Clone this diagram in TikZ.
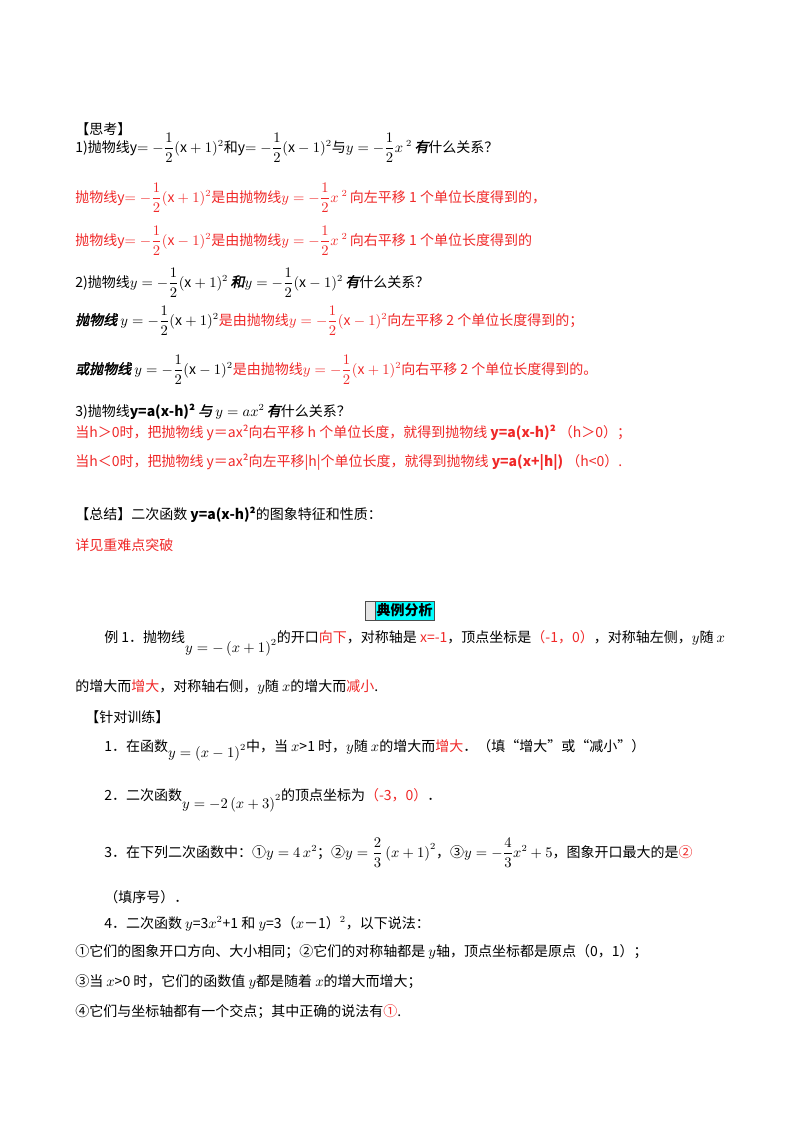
\documentclass[tikz,border=0pt]{standalone}
\usepackage{amsmath}
\usepackage{fontspec}
\setmainfont{Noto Sans CJK SC}
\newfontfamily\cjkbi[FakeSlant=0.2,FakeBold=2]{Noto Sans CJK SC}
\definecolor{myred}{RGB}{240,40,40}
\definecolor{mycyan}{RGB}{0,255,255}
\newcommand\rd[1]{\textcolor{myred}{#1}}
\newcommand\hf{\dfrac{1}{2}}
\begin{document}
\begin{tikzpicture}[x=0.75pt,y=-0.75pt,
  tl/.style={anchor=base west,inner sep=0pt,font=\fontsize{10.5}{12}\selectfont}]
\useasboundingbox (0,0) rectangle (800,1132);
\fill[white] (0,0) rectangle (800,1132);
\node[tl] (t0) at (75,134) {【思考】};
\node[tl] (t1) at (75,152) {1)抛物线y$=-\hf(\mathrm{x}+1)^2$和y$=-\hf(\mathrm{x}-1)^2$与$y=-\hf x^{\;2}$\,{\cjkbi 有}什么关系？};
\node[tl,text=myred] (t2) at (75,202) {抛物线y$=-\hf(\mathrm{x}+1)^2$是由抛物线$y=-\hf x^{\;2}$\,向左平移 1 个单位长度得到的，};
\node[tl,text=myred] (t3) at (75,245) {抛物线y$=-\hf(\mathrm{x}-1)^2$是由抛物线$y=-\hf x^{\;2}$\,向右平移 1 个单位长度得到的};
\node[tl] (t4) at (75,287) {2)抛物线$y=-\hf(\mathrm{x}+1)^2$\,{\cjkbi 和}$y=-\hf(\mathrm{x}-1)^2$\,{\cjkbi 有}什么关系？};
\node[tl] (t5) at (75,325) {{\cjkbi 抛物线} $y=-\hf(\mathrm{x}+1)^2$\rd{是由抛物线$y=-\hf(\mathrm{x}-1)^2$向左平移 2 个单位长度得到的；}};
\node[tl] (t6) at (75,374) {{\cjkbi 或抛物线} $y=-\hf(\mathrm{x}-1)^2$\rd{是由抛物线$y=-\hf(\mathrm{x}+1)^2$向右平移 2 个单位长度得到的。}};
\node[tl] (t7) at (75,416) {3)抛物线\textbf{y=a(x-h)²} {\cjkbi 与} $y=ax^2$\,{\cjkbi 有}什么关系？};
\node[tl,text=myred] (t8) at (75,437) {当h＞0时，把抛物线 y＝ax²向右平移 h 个单位长度，就得到抛物线 \textbf{y=a(x-h)²} （h＞0）；};
\node[tl,text=myred] (t9) at (75,466) {当h＜0时，把抛物线 y＝ax²向左平移|h|个单位长度，就得到抛物线 \textbf{y=a(x+|h|)} （h<0）.};
\node[tl] (t10) at (75,519) {【总结】二次函数 \textbf{y=a(x-h)²}的图象特征和性质：};
\node[tl,text=myred] (t11) at (75,550) {详见重难点突破};
\draw[fill=gray!20,draw=black!70] (365,601) rectangle (375,620);
\node[fill=mycyan,draw=black!70,anchor=west,minimum height=14.25pt,inner sep=1pt,font=\fontsize{10.5}{12}\selectfont\bfseries] (h) at (375,610.5) {典例分析};
\node[tl] (e1) at (104,642) {例 1．抛物线\raisebox{-8pt}{$y=-\left(x+1\right)^2$}的开口\rd{向下}，对称轴是 \rd{x=-1}，顶点坐标是\rd{（-1，0）}，对称轴左侧，$y$随 $x$};
\node[tl] (e2) at (75,691) {的增大而\rd{增大}，对称轴右侧，$y$随 $x$的增大而\rd{减小}.};
\node[tl] (e3) at (85,722) {【针对训练】};
\node[tl] (p1) at (104,751) {1．在函数\raisebox{-5pt}{$y=\left(x-1\right)^2$}中，当 $x$>1 时，$y$随 $x$的增大而\rd{增大}．（填“增大”或“减小”）};
\node[tl] (p2) at (104,800) {2．二次函数\raisebox{-6pt}{$y=-2\left(x+3\right)^2$}的顶点坐标为\rd{（-3，0）}．};
\node[tl] (p3) at (104,857) {3．在下列二次函数中：①$y=4\,x^2$；②$y=\dfrac{2}{3}\left(x+1\right)^2$，③$y=-\dfrac{4}{3}x^2+5$，图象开口最大的是\rd{②}};
\node[tl] (p3b) at (104,902) {（填序号）．};
\node[tl] (p4) at (104,928) {4．二次函数 $y$=3$x^2$+1 和 $y$=3（$x$－1）$^2$，以下说法：};
\node[tl] (p5) at (75,956) {①它们的图象开口方向、大小相同；②它们的对称轴都是 $y$轴，顶点坐标都是原点（0，1）；};
\node[tl] (p6) at (75,986) {③当 $x$>0 时，它们的函数值 $y$都是随着 $x$的增大而增大；};
\node[tl] (p7) at (75,1016) {④它们与坐标轴都有一个交点；其中正确的说法有\rd{①}.};
\end{tikzpicture}
\end{document}
